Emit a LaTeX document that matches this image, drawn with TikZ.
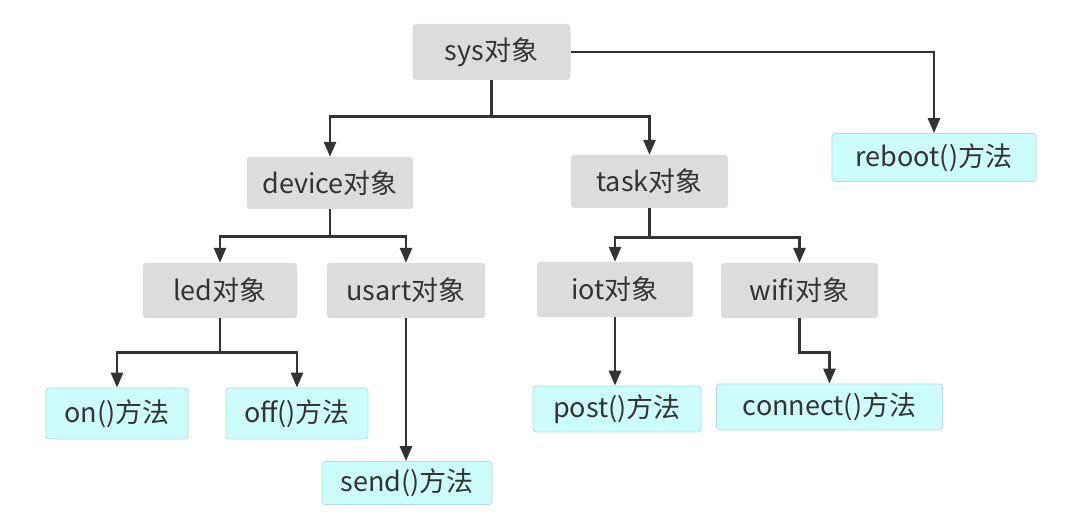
\documentclass[tikz,border=0pt]{standalone}
\usepackage{fontspec}
\newfontfamily\cjk{Noto Sans CJK SC}
\usetikzlibrary{arrows.meta}
\definecolor{objfill}{HTML}{DCDCDC}
\definecolor{methfill}{HTML}{CCFCFC}
\definecolor{methdraw}{HTML}{B0DEDE}
\definecolor{txt}{HTML}{333333}
\definecolor{linec}{HTML}{333333}
\tikzset{
  obj/.style={fill=objfill, rounded corners=3pt, text=txt, font=\cjk\fontsize{27}{30}\selectfont, inner sep=0pt},
  meth/.style={fill=methfill, draw=methdraw, line width=0.8pt, rounded corners=3pt, text=txt, font=\cjk\fontsize{27}{30}\selectfont, inner sep=0pt},
  arr/.style={draw=linec, line width=2.8pt, -{Triangle[width=12pt,length=15pt]}}
}
\begin{document}
\begin{tikzpicture}[x=1pt,y=-1pt]
\useasboundingbox (0,0) rectangle (1069,526);
\fill[white] (0,0) rectangle (1069,526);
% object nodes
\node[obj, minimum width=158pt, minimum height=56pt] (sys) at (491.5,52) {sys对象};
\node[obj, minimum width=166pt, minimum height=52pt] (device) at (330,183) {device对象};
\node[obj, minimum width=157pt, minimum height=53pt] (task) at (649.5,181.5) {task对象};
\node[obj, minimum width=154pt, minimum height=55pt] (led) at (220,290.5) {led对象};
\node[obj, minimum width=158pt, minimum height=55pt] (usart) at (406,290.5) {usart对象};
\node[obj, minimum width=156pt, minimum height=55pt] (iot) at (615,289.5) {iot对象};
\node[obj, minimum width=157pt, minimum height=55pt] (wifi) at (799.5,290.5) {wifi对象};
% method nodes
\node[meth, minimum width=204pt, minimum height=48pt] (reboot) at (934,157.5) {reboot()方法};
\node[meth, minimum width=142pt, minimum height=51pt] (on) at (117,413.5) {on()方法};
\node[meth, minimum width=142pt, minimum height=51pt] (off) at (297,413.5) {off()方法};
\node[meth, minimum width=170pt, minimum height=43pt] (send) at (407,483) {send()方法};
\node[meth, minimum width=168pt, minimum height=46pt] (post) at (617,409) {post()方法};
\node[meth, minimum width=226pt, minimum height=46pt] (connect) at (829.5,407) {connect()方法};
% connectors
\draw[arr] (sys.south) -- ++(0,36) -| (device.north);
\draw[arr] (sys.south) -- ++(0,36) -| (task.north);
\draw[arr] (sys.east) -| (reboot.north);
\draw[arr] (device.south) -- ++(0,27) -| (led.north);
\draw[arr] (device.south) -- ++(0,27) -| (usart.north);
\draw[arr] (task.south) -- ++(0,29) -| (iot.north);
\draw[arr] (task.south) -- ++(0,29) -| (wifi.north);
\draw[arr] (led.south) -- ++(0,34) -| (on.north);
\draw[arr] (led.south) -- ++(0,34) -| (off.north);
\draw[arr] (usart.south) -- (send.north -| usart.south);
\draw[arr] (iot.south) -- (post.north -| iot.south);
\draw[arr] (wifi.south) -- ++(0,34) -| (connect.north);
\end{tikzpicture}
\end{document}
